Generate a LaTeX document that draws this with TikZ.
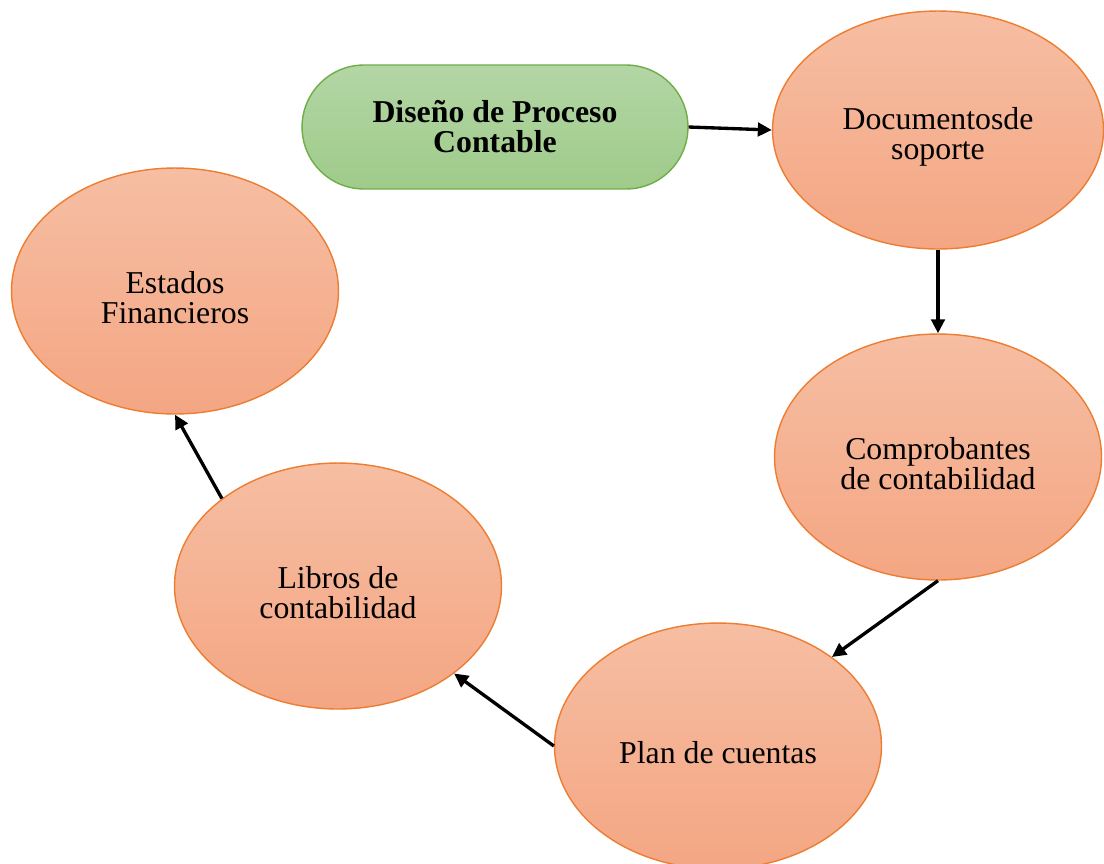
\documentclass[tikz,border=0pt]{standalone}
\usepackage{fontspec}
\setmainfont{Liberation Serif}
\usetikzlibrary{shapes.geometric,arrows.meta}

\definecolor{salmontop}{HTML}{F6BEA3}
\definecolor{salmonbot}{HTML}{F4A683}
\definecolor{orangeline}{HTML}{ED7D31}
\definecolor{greentop}{HTML}{B3D6A5}
\definecolor{greenbot}{HTML}{9FCB8A}
\definecolor{greenline}{HTML}{70AD47}

\begin{document}
\begin{tikzpicture}[x=0.02cm,y=-0.02cm,
    etapa/.style={ellipse,draw=orangeline,line width=0.8pt,top color=salmontop,bottom color=salmonbot,
        minimum width=6.54cm,minimum height=4.92cm,inner sep=0pt},
    etiqueta/.style={align=center,yshift=-0.14cm,font=\fontsize{18.1}{17}\selectfont},
    inicio/.style={rectangle,rounded corners=1.24cm,draw=greenline,line width=0.8pt,top color=greentop,bottom color=greenbot,
        minimum width=7.72cm,minimum height=2.48cm,align=center,
        font=\bfseries\fontsize{18.1}{17}\selectfont},
    flecha/.style={-{Triangle[length=0.28cm,width=0.27cm]},line width=1.9pt}]

	\clip (0,0) rectangle (1104,863);
	\useasboundingbox (0,0) rectangle (1104,863);

	% nodos
	\node[inicio] (proceso) at (495,127) {Diseño de Proceso\\Contable};
	\node[etapa,minimum width=6.62cm,minimum height=4.76cm,label={[etiqueta]center:Documentosde\\soporte}] (documentos) at (938,130) {};
	\node[etapa,label={[etiqueta]center:Comprobantes\\de contabilidad}] (comprobantes) at (938,457) {};
	\node[etapa,label={[etiqueta]center:Plan de cuentas}] (plan) at (718,746) {};
	\node[etapa,label={[etiqueta]center:Libros de\\contabilidad}] (libros) at (338,586) {};
	\node[etapa,label={[etiqueta]center:Estados\\Financieros}] (estados) at (175,291) {};

	% flechas
	\draw[flecha] (proceso.east) -- (documentos.west);
	\draw[flecha] (documentos.south) -- (comprobantes.north);
	\draw[flecha] (comprobantes.south) -- (plan.38);
	\draw[flecha] (plan.west) -- (libros.-37);
	\draw[flecha] (libros.143) -- (estados.south);

\end{tikzpicture}
\end{document}
